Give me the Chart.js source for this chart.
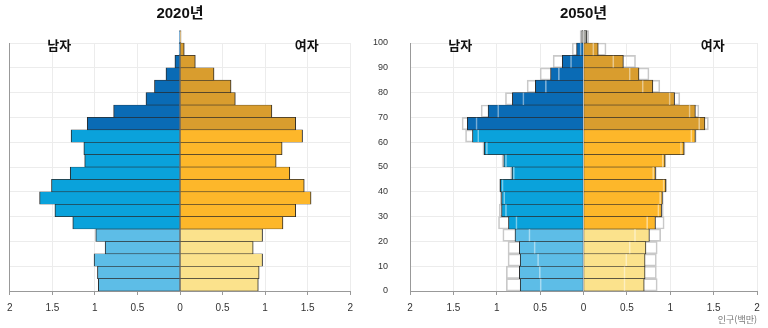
<!DOCTYPE html>
<html lang="ko">
<head>
<meta charset="utf-8">
<title>인구 피라미드 2020년 · 2050년</title>
<script src="https://cdn.jsdelivr.net/npm/chart.js@4.4.1/dist/chart.umd.min.js"></script>
<style>
  html, body { margin: 0; padding: 0; background: #fff; }
  #wrap { position: relative; width: 768px; height: 328px; overflow: hidden; }
  canvas { position: absolute; top: 0; }
  #c2020 { left: 0; }
  #c2050 { left: 360px; }
</style>
</head>
<body>
<div id="wrap">
  <canvas id="c2020" width="360" height="328"></canvas>
  <canvas id="c2050" width="408" height="328"></canvas>
</div>
<script>
// 5세 단위 연령 구간 (0-4세 ~ 100세 이상)
const ageGroups = ['0-4', '5-9', '10-14', '15-19', '20-24', '25-29', '30-34', '35-39', '40-44', '45-49',
  '50-54', '55-59', '60-64', '65-69', '70-74', '75-79', '80-84', '85-89', '90-94', '95-99', '100+'];
const ageStart = [0, 5, 10, 15, 20, 25, 30, 35, 40, 45, 50, 55, 60, 65, 70, 75, 80, 85, 90, 95, 100];

// 인구 (백만 명)
const men2020 = [0.96, 0.97, 1.01, 0.88, 0.99, 1.26, 1.47, 1.65, 1.51, 1.29,
  1.12, 1.13, 1.28, 1.09, 0.78, 0.40, 0.30, 0.165, 0.06, 0.01, 0.005];
const women2020 = [0.92, 0.93, 0.97, 0.86, 0.97, 1.21, 1.36, 1.54, 1.46, 1.29,
  1.13, 1.20, 1.44, 1.36, 1.08, 0.65, 0.60, 0.40, 0.18, 0.05, 0.012];

// 2050년 중위 추계
const men2050 = [0.73, 0.74, 0.73, 0.74, 0.79, 0.865, 0.945, 0.945, 0.96, 0.825,
  0.92, 1.145, 1.28, 1.34, 1.10, 0.82, 0.555, 0.38, 0.245, 0.08, 0.02];
const women2050 = [0.70, 0.71, 0.71, 0.72, 0.76, 0.83, 0.90, 0.91, 0.95, 0.83,
  0.94, 1.16, 1.29, 1.40, 1.29, 1.05, 0.80, 0.64, 0.46, 0.17, 0.04];
// 고위 추계 (회색 윤곽)
const men2050High = [0.89, 0.89, 0.87, 0.87, 0.93, 0.98, 0.97, 0.96, 0.97, 0.84,
  0.94, 1.16, 1.36, 1.40, 1.18, 0.90, 0.65, 0.50, 0.35, 0.13, 0.04];
const women2050High = [0.85, 0.84, 0.84, 0.85, 0.89, 0.93, 0.92, 0.92, 0.96, 0.84,
  0.95, 1.17, 1.30, 1.44, 1.33, 1.11, 0.88, 0.755, 0.60, 0.26, 0.06];
// 저위 추계 (흰 선)
const men2050Low = [0.50, 0.51, 0.53, 0.57, 0.63, 0.78, 0.90, 0.92, 0.94, 0.81,
  0.90, 1.12, 1.22, 1.24, 0.99, 0.70, 0.44, 0.29, 0.15, 0.04, 0.01];
const women2050Low = [0.48, 0.48, 0.50, 0.54, 0.60, 0.74, 0.87, 0.89, 0.93, 0.81,
  0.92, 1.13, 1.25, 1.34, 1.23, 1.00, 0.69, 0.54, 0.35, 0.12, 0.02];

const xTicks = [-2, -1.5, -1, -0.5, 0, 0.5, 1, 1.5, 2];
const yTicks = [0, 10, 20, 30, 40, 50, 60, 70, 80, 90, 100];

// 유소년(0-24) / 생산연령(25-64) / 고령(65+)
const menColors = ['#5dbde7', '#0aa2db', '#0a6bb5'];
const womenColors = ['#fbe28c', '#fdb72a', '#d99d2e'];
const topGroupColor = '#8e8e86';

Chart.defaults.font.family = "'Liberation Sans', 'Noto Sans CJK KR', sans-serif";
Chart.defaults.color = '#333';

function colorsFor(palette, greyTop) {
  return ageStart.map(a => {
    if (greyTop && a >= 100) return topGroupColor;
    return a < 25 ? palette[0] : a < 65 ? palette[1] : palette[2];
  });
}

function points(values, sign) {
  return values.map((v, i) => ({ x: sign * v, y: ageStart[i] + 2.5 }));
}

const sexLabels = {
  id: 'sexLabels',
  afterDraw(chart) {
    const { ctx, scales: { x, y } } = chart;
    const yy = y.getPixelForValue(100) + 2;
    ctx.save();
    ctx.font = "bold 13px 'Noto Sans CJK KR'";
    ctx.fillStyle = '#111';
    ctx.textAlign = 'center';
    ctx.textBaseline = 'middle';
    ctx.fillText('남자', x.getPixelForValue(-1.42), yy);
    ctx.fillText('여자', x.getPixelForValue(1.49), yy);
    ctx.restore();
  }
};

function mainBar(values, sign, palette, greyTop) {
  return {
    data: points(values, sign),
    backgroundColor: colorsFor(palette, greyTop),
    borderColor: '#2a2a2a',
    borderWidth: sign < 0
      ? { top: 0.6, bottom: 0.6, left: 1, right: 0.5 }
      : { top: 0.6, bottom: 0.6, left: 0.5, right: 1 },
    borderSkipped: false
  };
}

function pyramid(id, year, sets, opts) {
  new Chart(document.getElementById(id), {
    type: 'bar',
    data: { datasets: sets },
    options: {
      indexAxis: 'y',
      responsive: false,
      animation: false,
      layout: { padding: { top: 0, left: 0, right: opts.padRight, bottom: 0 } },
      datasets: {
        bar: { grouped: false, barPercentage: 1, categoryPercentage: 1, clip: false }
      },
      scales: {
        x: {
          type: 'linear',
          min: -2,
          max: 2,
          afterBuildTicks: axis => { axis.ticks = xTicks.map(v => ({ value: v })); },
          afterFit: axis => { axis.height = 37; },
          grid: { color: '#ececec', tickColor: '#999', tickLength: 4 },
          border: { color: '#999' },
          ticks: {
            padding: 7,
            font: { size: 10 },
            color: '#333',
            callback: v => String(Math.abs(v))
          },
          title: {
            display: !!opts.unit,
            text: opts.unit || '',
            align: 'end',
            color: '#777',
            font: { size: 9, family: "'Noto Sans CJK KR'" },
            padding: { top: 0, bottom: 3 }
          }
        },
        y: {
          type: 'linear',
          min: 0,
          max: 100,
          offset: false,
          afterBuildTicks: axis => { axis.ticks = yTicks.map(v => ({ value: v })); },
          afterFit: axis => { axis.width = opts.axisWidth; },
          grid: { color: '#ececec', drawTicks: false, offset: false },
          border: { color: '#999' },
          ticks: {
            display: opts.showAges,
            padding: 22,
            font: { size: 9 },
            color: '#333'
          }
        }
      },
      plugins: {
        legend: { display: false },
        tooltip: { enabled: false },
        title: {
          display: true,
          text: year,
          fullSize: false,
          color: '#111',
          font: { size: 15, weight: 'bold' },
          padding: { top: 5, bottom: 20 }
        }
      }
    },
    plugins: [sexLabels]
  });
}

pyramid('c2020', '2020년', [
  mainBar(men2020, -1, menColors, false),
  mainBar(women2020, 1, womenColors, false)
], { padRight: 6, axisWidth: 7, showAges: false });

const lowLine = (values, sign) => ({
  data: points(values, sign),
  backgroundColor: 'rgba(0,0,0,0)',
  borderColor: 'rgba(255,255,255,0.45)',
  borderWidth: { top: 0, bottom: 0, left: 1, right: 1 },
  borderSkipped: 'start'
});
const highOutline = (values, sign) => ({
  data: points(values, sign),
  backgroundColor: 'rgba(0,0,0,0)',
  borderColor: '#c9c9c9',
  borderWidth: 1,
  borderSkipped: false
});

// 앞쪽 데이터셋이 위에 그려짐
pyramid('c2050', '2050년', [
  lowLine(men2050Low, -1),
  lowLine(women2050Low, 1),
  mainBar(men2050, -1, menColors, true),
  mainBar(women2050, 1, womenColors, true),
  highOutline(men2050High, -1),
  highOutline(women2050High, 1)
], { padRight: 11, axisWidth: 50, showAges: true, unit: '인구(백만)' });
</script>
</body>
</html>
